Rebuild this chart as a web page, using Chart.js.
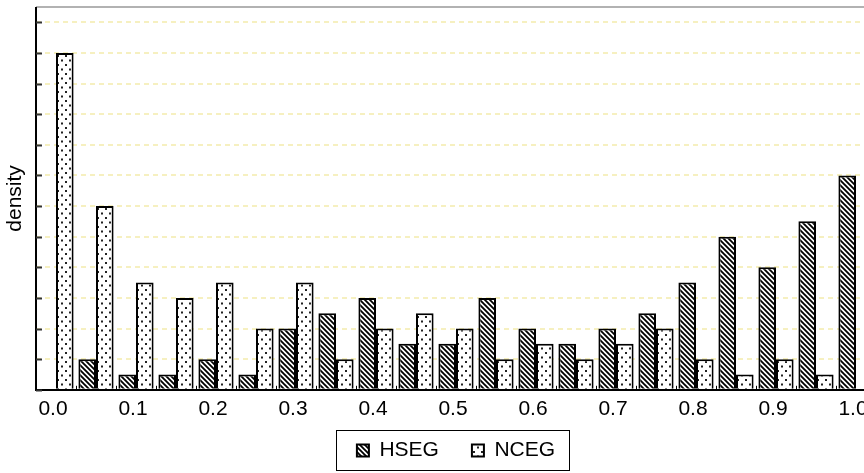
<!DOCTYPE html>
<html>
<head>
<meta charset="utf-8">
<script src="https://cdn.jsdelivr.net/npm/chart.js@4.4.0/dist/chart.umd.min.js"></script>
<style>
  html, body { margin: 0; padding: 0; background: #fff; }
  #wrap { width: 864px; height: 473px; overflow: hidden; }
  #box { width: 880px; height: 473px; position: relative; }
</style>
</head>
<body>
<div id="wrap"><div id="box"><canvas id="diagramm"></canvas></div></div>
<script>
// Daten
var klassen = ['0.00', '0.05', '0.10', '0.15', '0.20', '0.25', '0.30', '0.35', '0.40', '0.45', '0.50',
               '0.55', '0.60', '0.65', '0.70', '0.75', '0.80', '0.85', '0.90', '0.95', '1.00'];
var hsegWerte = [0, 1, 0.5, 0.5, 1, 0.5, 2, 2.5, 3, 1.5, 1.5, 3, 2, 1.5, 2, 2.5, 3.5, 5, 4, 5.5, 7];
var ncegWerte = [11, 6, 3.5, 3, 3.5, 2, 3.5, 1, 2, 2.5, 2, 1, 1.5, 1, 1.5, 2, 1, 0.5, 1, 0.5, 0];
var yTicks = [0, 1, 2, 3, 4, 5, 6, 7, 8, 9, 10, 11, 12];
var yMax = 12.5;

var schrift = "'Liberation Sans', Arial, Helvetica, sans-serif";

// Schraffur fuer HSEG
function schraffur() {
    var c = document.createElement('canvas');
    c.width = 5; c.height = 5;
    var g = c.getContext('2d');
    g.fillStyle = '#fff';
    g.fillRect(0, 0, 5, 5);
    g.strokeStyle = '#000';
    g.lineWidth = 1.8;
    g.beginPath();
    for (var k = -1; k <= 1; k++) {
        g.moveTo(k * 5 - 1, -1);
        g.lineTo(k * 5 + 6, 6);
    }
    g.stroke();
    return g.createPattern(c, 'repeat');
}

// Punkte fuer NCEG
function punkte() {
    var c = document.createElement('canvas');
    c.width = 8; c.height = 9;
    var g = c.getContext('2d');
    g.fillStyle = '#fff';
    g.fillRect(0, 0, 8, 9);
    g.fillStyle = '#222';
    g.fillRect(1, 1, 2, 2);
    g.fillRect(5, 5.5, 2, 2);
    return g.createPattern(c, 'repeat');
}

// Rahmen, Tickstriche und Legendenkasten
var rahmenPlugin = {
    id: 'rahmen',
    afterLayout: function(chart) {
        // Beschriftung der x-Achse darf in den Legendenbereich ragen
        chart.scales.x.bottom += 22;
    },
    afterDatasetsDraw: function(chart) {
        var ctx = chart.ctx;
        var a = chart.chartArea;
        var x = chart.scales.x;
        var y = chart.scales.y;
        ctx.save();
        // obere Linie
        ctx.strokeStyle = '#999';
        ctx.lineWidth = 1.5;
        ctx.beginPath();
        ctx.moveTo(a.left, a.top);
        ctx.lineTo(a.right, a.top);
        ctx.stroke();
        // linke Achse
        ctx.strokeStyle = '#000';
        ctx.lineWidth = 2;
        ctx.beginPath();
        ctx.moveTo(a.left, a.top);
        ctx.lineTo(a.left, a.bottom);
        ctx.stroke();
        // y-Ticks nach innen
        ctx.strokeStyle = '#333';
        yTicks.forEach(function(t) {
            var py = Math.round(y.getPixelForValue(t)) + 0.5;
            ctx.beginPath();
            ctx.moveTo(a.left, py);
            ctx.lineTo(a.left + 6, py);
            ctx.stroke();
        });
        // x-Ticks an den Klassengrenzen
        var halb = (x.getPixelForValue(1) - x.getPixelForValue(0)) / 2;
        ctx.lineWidth = 1;
        ctx.strokeStyle = '#000';
        for (var i = 0; i <= klassen.length; i++) {
            var px = Math.round(x.getPixelForValue(i) - halb) + 0.5;
            ctx.beginPath();
            ctx.moveTo(px, a.bottom);
            ctx.lineTo(px, a.bottom - 4);
            ctx.stroke();
        }
        ctx.restore();
    },
    afterDraw: function(chart) {
        var boxes = chart.legend.legendHitBoxes;
        if (!boxes || !boxes.length) return;
        var erst = boxes[0];
        var letzt = boxes[boxes.length - 1];
        var ctx = chart.ctx;
        ctx.save();
        ctx.strokeStyle = '#000';
        ctx.lineWidth = 1;
        var l = Math.round(erst.left - 21) + 0.5;
        var r = Math.round(letzt.left + letzt.width + 14) + 0.5;
        var t = Math.round(erst.top - 10) + 0.5;
        var b = t + 40;
        ctx.strokeRect(l, t, r - l, b - t);
        ctx.restore();
    }
};

var ctxDiagramm = document.getElementById('diagramm').getContext('2d');
var diagramm = new Chart(ctxDiagramm, {
    type: 'bar',
    data: {
        labels: klassen,
        datasets: [{
            label: 'HSEG',
            data: hsegWerte,
            backgroundColor: schraffur(),
            borderColor: '#000',
            borderWidth: 2,
            categoryPercentage: 0.88,
            barPercentage: 1.0
        }, {
            label: 'NCEG',
            data: ncegWerte,
            backgroundColor: punkte(),
            borderColor: '#000',
            borderWidth: 2,
            categoryPercentage: 0.88,
            barPercentage: 1.0
        }]
    },
    options: {
        responsive: true,
        maintainAspectRatio: false,
        animation: false,
        layout: {
            padding: { top: 7, right: 4, bottom: 2, left: 0 }
        },
        scales: {
            x: {
                grid: { display: false, drawTicks: false },
                border: { color: '#000', width: 2 },
                afterFit: function(scale) {
                    scale.height = scale.height - 22;
                },
                ticks: {
                    autoSkip: false,
                    maxRotation: 0,
                    padding: 7,
                    labelOffset: -3,
                    color: '#000',
                    font: { family: schrift, size: 21 },
                    callback: function(value, index) {
                        return index % 2 === 0 ? parseFloat(klassen[index]).toFixed(1) : '';
                    }
                }
            },
            y: {
                min: 0,
                max: yMax,
                afterBuildTicks: function(scale) {
                    scale.ticks = yTicks.map(function(v) { return { value: v }; });
                },
                afterFit: function(scale) {
                    scale.width = 36;
                },
                grid: {
                    color: '#f6f0c0',
                    lineWidth: 2,
                    drawTicks: false
                },
                border: { display: false, dash: [5, 4] },
                ticks: { display: false },
                title: {
                    display: true,
                    text: 'density',
                    color: '#000',
                    font: { family: schrift, size: 21 },
                    padding: { top: 3, bottom: 0 }
                }
            }
        },
        plugins: {
            legend: {
                position: 'bottom',
                fullSize: false,
                labels: {
                    boxWidth: 12,
                    boxHeight: 12,
                    padding: 33,
                    color: '#000',
                    font: { family: schrift, size: 21 }
                }
            },
            tooltip: { enabled: false }
        }
    },
    plugins: [rahmenPlugin]
});
</script>
</body>
</html>
